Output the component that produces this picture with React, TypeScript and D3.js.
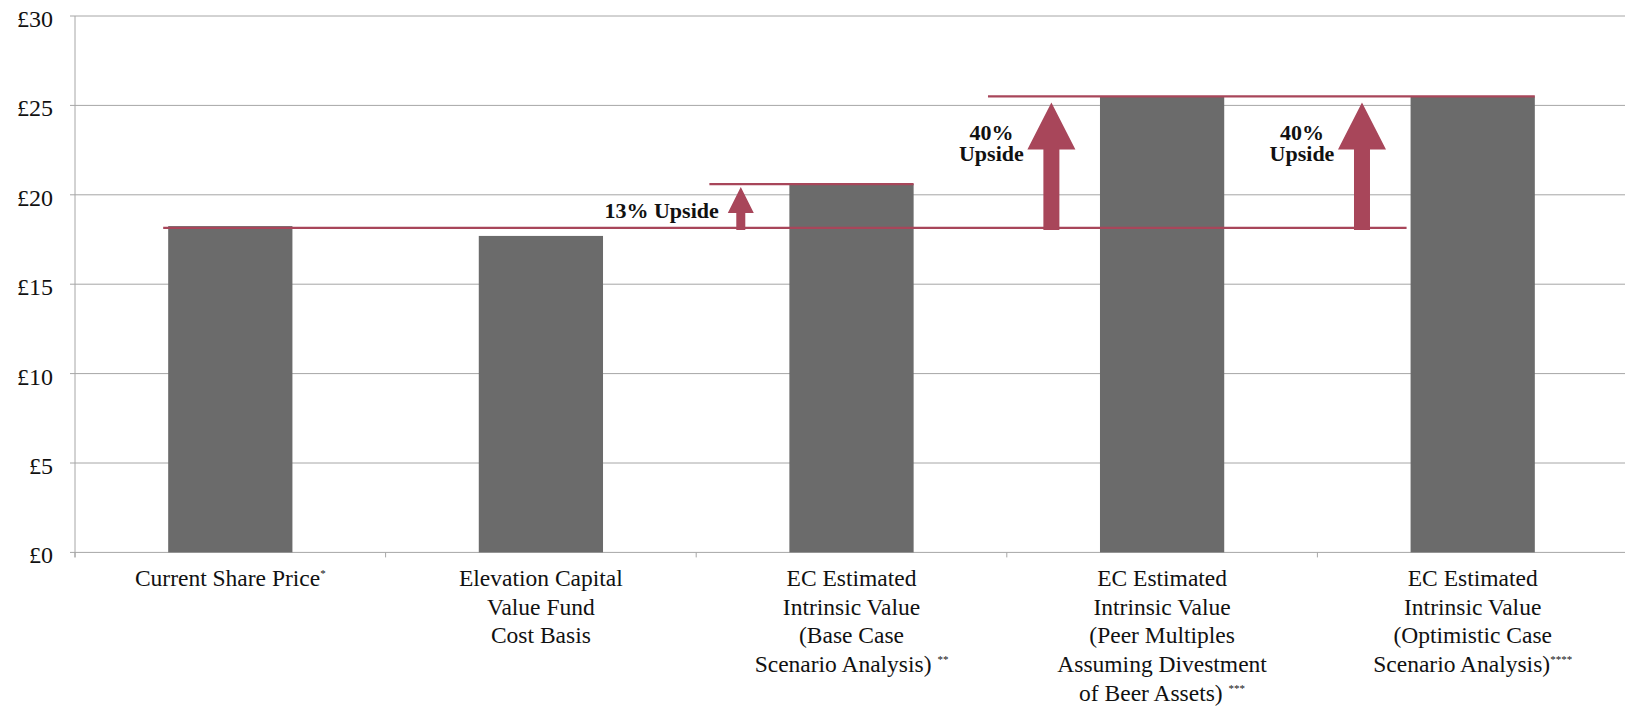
import React from "react";
import * as d3 from "d3";

// Categories, each label split into its printed lines, plus a footnote marker
const categoryLines: string[][] = [
  ["Current Share Price"],
  ["Elevation Capital", "Value Fund", "Cost Basis"],
  ["EC Estimated", "Intrinsic Value", "(Base Case", "Scenario Analysis) "],
  ["EC Estimated", "Intrinsic Value", "(Peer Multiples", "Assuming Divestment", "of Beer Assets) "],
  ["EC Estimated", "Intrinsic Value", "(Optimistic Case", "Scenario Analysis)"],
];
const footnotes = ["*", "", "**", "***", "****"];
const categoryKeys = ["current", "costBasis", "baseCase", "peerMultiples", "optimistic"];

// Price per share (£)
const values = [18.25, 17.7, 20.6, 25.5, 25.5];
const yTicks = [0, 5, 10, 15, 20, 25, 30];

// Reference level (current price) used for the upside arrows
const referencePrice = 18.15;
const upsideCats = [2, 3, 4];
const upsideLabels = ["13% Upside", "40% Upside", "40% Upside"];
const upsideSize = ["small", "large", "large"];

const W = 1625;
const H = 706;
const left = 75;
const right = 1628;
const top = 16;
const bottom = 552.4;

const RED = "#a8465a";
const GRID = "#a6a6a6";
const BAR = "#6b6b6b";
const serif = { fontFamily: '"Liberation Serif", "Times New Roman", Times, serif' };

export default function App() {
  const x = d3
    .scaleBand<string>()
    .domain(categoryKeys)
    .range([left, right])
    .paddingInner(0.6)
    .paddingOuter(0.3);
  const y = d3.scaleLinear().domain([0, 30]).range([bottom, top]);
  const bw = x.bandwidth();
  const step = x.step();
  const gap = step - bw;

  const xc = (i: number) => x(categoryKeys[i]) as number;
  const refY = y(referencePrice);

  // boundaries between categories on the x axis
  const boundaries = d3.range(categoryKeys.length + 1).map((i) => left + i * step);

  const arrowPath = (cx: number, y0: number, y1: number, size: string) => {
    const shaft = size === "small" ? 9 : 16;
    const headW = size === "small" ? 26 : 48;
    const headH = size === "small" ? 26 : 47;
    const tip = y1 + (size === "small" ? 3 : 6);
    const hb = tip + headH;
    const s = shaft / 2;
    const h = headW / 2;
    return `M${cx - s},${y0 + 2}L${cx - s},${hb}L${cx - h},${hb}L${cx},${tip}L${cx + h},${hb}L${cx + s},${hb}L${cx + s},${y0 + 2}Z`;
  };

  // upper reference segments
  const topLines = [
    { y: y(values[2]), x1: xc(2) - 80, x2: xc(2) + bw },
    { y: y(values[3]), x1: xc(3) - 112, x2: xc(4) + bw },
  ];

  return (
    <svg
      width={W}
      height={H}
      style={{ position: "absolute", left: 0, top: 0, background: "#fff" }}
    >
      {/* horizontal gridlines and y ticks */}
      {yTicks.map((t) => (
        <g key={t}>
          <line x1={left - 5} x2={W} y1={y(t)} y2={y(t)} stroke={GRID} strokeWidth={1} />
          <text x={53} y={y(t) + 11} textAnchor="end" fontSize={24} fill="#111" style={serif}>
            £{t}
          </text>
        </g>
      ))}
      {/* y axis */}
      <line x1={left} x2={left} y1={top} y2={bottom + 5} stroke={GRID} strokeWidth={1} />
      {/* x axis category boundary ticks */}
      {boundaries.map((b, i) => (
        <line key={i} x1={b} x2={b} y1={bottom} y2={bottom + 5} stroke={GRID} strokeWidth={1} />
      ))}

      {/* bars */}
      {values.map((v, i) => (
        <rect key={i} x={xc(i)} y={y(v)} width={bw} height={bottom - y(v)} fill={BAR} />
      ))}

      {/* reference lines */}
      <line x1={xc(0) - 5} x2={xc(4) - 4} y1={refY} y2={refY} stroke={RED} strokeWidth={2.3} />
      {topLines.map((l, i) => (
        <line key={i} x1={l.x1} x2={l.x2} y1={l.y} y2={l.y} stroke={RED} strokeWidth={2.3} />
      ))}

      {/* upside arrows and labels */}
      {upsideCats.map((c, i) => {
        // arrow sits midway between the category boundary and the bar
        const ax = xc(c) - gap / 4 - 2;
        const ty = y(values[c]);
        const size = upsideSize[i];
        const parts = upsideLabels[i].split(" ");
        return (
          <g key={c}>
            <path d={arrowPath(ax, refY, ty, size)} fill={RED} />
            {size === "small" ? (
              <text x={ax - 22} y={refY - 10} textAnchor="end" fontSize={22} fontWeight="bold" fill="#111" style={serif}>
                {upsideLabels[i]}
              </text>
            ) : (
              <text textAnchor="middle" fontSize={22} fontWeight="bold" fill="#111" style={serif}>
                <tspan x={ax - 60} y={ty + 43.5}>{parts[0]}</tspan>
                <tspan x={ax - 60} y={ty + 64.5}>{parts[1]}</tspan>
              </text>
            )}
          </g>
        );
      })}

      {/* category labels */}
      {categoryLines.map((lines, i) => {
        const cx = xc(i) + bw / 2;
        return (
          <text key={i} textAnchor="middle" fontSize={23.5} fill="#111" style={serif}>
            {lines.map((ln, j) => (
              <tspan key={j} x={cx} y={586 + j * 28.7}>
                {ln}
                {j === lines.length - 1 && footnotes[i] ? (
                  <tspan fontSize={11} dy={-9}>
                    {footnotes[i]}
                  </tspan>
                ) : null}
              </tspan>
            ))}
          </text>
        );
      })}
    </svg>
  );
}
